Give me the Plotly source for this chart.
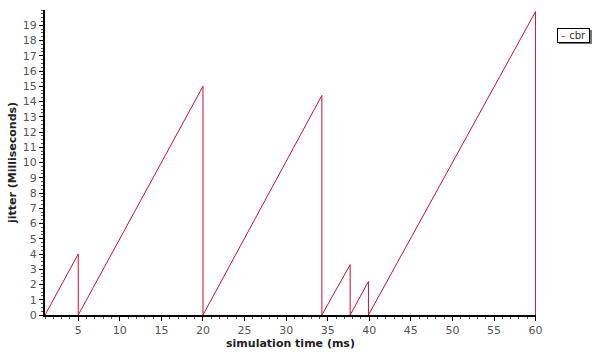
import plotly.graph_objects as go

# sawtooth jitter series (time ms, jitter ms)
time_ms = [1, 5, 5, 20, 20, 34.3, 34.3, 37.7, 37.7, 39.9, 39.9, 60, 60]
jitter_ms = [0, 4, 0, 15, 0, 14.4, 0, 3.3, 0, 2.2, 0, 19.9, 0]
series_name = "cbr"
x_ticks = [5, 10, 15, 20, 25, 30, 35, 40, 45, 50, 55, 60]
y_ticks = list(range(0, 20))

fig = go.Figure()
fig.add_trace(go.Scatter(x=time_ms, y=jitter_ms, mode="lines", name=series_name,
                         line=dict(color="#c8102e", width=1), showlegend=False,
                         cliponaxis=False))

font_family = "Tahoma, Verdana, DejaVu Sans, sans-serif"
fig.update_layout(
    width=597, height=356,
    margin=dict(l=45, r=61, t=10, b=41),
    paper_bgcolor="white", plot_bgcolor="white",
    font=dict(family=font_family, size=11, color="#444"),
    xaxis=dict(range=[1, 60.05], tickvals=x_ticks, showgrid=False, zeroline=False,
               showline=True, linecolor="black", linewidth=2,
               ticks="outside", ticklen=4, tickcolor="black",
               minor=dict(dtick=1, ticks="outside", ticklen=2, tickcolor="#555"),
               tickfont=dict(size=11, color="#555"),
               title=dict(text="<b>simulation time (ms)</b>", font=dict(size=11, color="#222"), standoff=2)),
    yaxis=dict(range=[0, 20], tickvals=y_ticks, showgrid=False, zeroline=False,
               showline=True, linecolor="black", linewidth=2,
               ticks="outside", ticklen=4, tickcolor="black",
               minor=dict(dtick=0.25, ticks="outside", ticklen=2, tickcolor="#555"),
               tickfont=dict(size=11, color="#555"),
               title=dict(text="<b>jitter (Milliseconds)</b>", font=dict(size=11, color="#222"), standoff=4)),
)

# legend box drawn as annotation with a small shadow
W = 491
H = 305
fig.add_shape(type="rect", xref="paper", yref="paper",
              x0=(559 - 45) / W, x1=(592 - 45) / W,
              y0=(315 - 44) / H, y1=(315 - 30) / H,
              fillcolor="#777", line=dict(width=0))
fig.add_annotation(xref="paper", yref="paper", x=(557 - 45) / W, y=(315 - 28) / H,
                   xanchor="left", yanchor="top", showarrow=False,
                   width=29, height=11, align="center",
                   text="<span style='color:#c8102e'>–</span> " + series_name,
                   font=dict(size=10, color="#333", family=font_family),
                   bgcolor="white", bordercolor="black", borderwidth=1, borderpad=1)

fig.write_html("out.html")
